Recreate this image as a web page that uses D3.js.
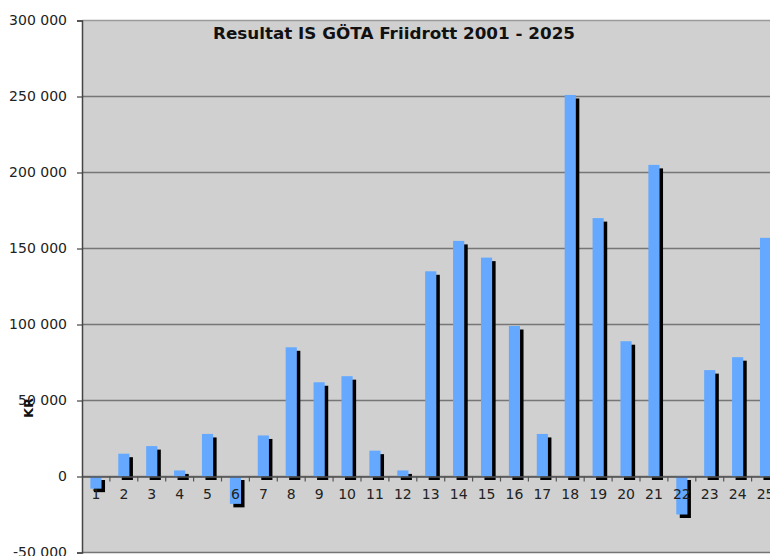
<!DOCTYPE html>
<html><head><meta charset="utf-8">
<script src="https://cdn.jsdelivr.net/npm/d3@7"></script>
<style>body{margin:0;background:#fff;} svg{display:block;}</style>
</head><body>
<svg id="c" width="770" height="556"></svg>
<script>
const categories = ["1","2","3","4","5","6","7","8","9","10","11","12","13","14","15","16","17","18","19","20","21","22","23","24","25"];
const values = [-8000,15000,20000,4000,28000,-18000,27000,85000,62000,66000,17000,4000,135000,155000,144000,99000,28000,251000,170000,89000,205000,-25000,70000,78500,157000];
const yTicks = [-50000,0,50000,100000,150000,200000,250000,300000];
const title = "Resultat IS GÖTA Friidrott 2001 - 2025";
const yLabel = "KR";

const FONT = "'DejaVu Sans', Verdana, sans-serif";
const svg = d3.select("#c");
const L = 82, R = 779.5, T = 20.5, B = 552.5;
const x = d3.scaleBand().domain(categories).range([L, R]).paddingInner(0.6).paddingOuter(0.3);
const y = d3.scaleLinear().domain([-50000, 300000]).range([B, T]);
const fmt = v => d3.format(",")(v).replace(/,/g, " ").replace("−", "-");

// plot background
svg.append("rect").attr("x", L).attr("y", T).attr("width", R - L).attr("height", B - T).attr("fill", "#d0d0d0");

// gridlines
svg.append("g").selectAll("line").data(yTicks).join("line")
  .attr("x1", L).attr("x2", R).attr("y1", d => y(d)).attr("y2", d => y(d))
  .attr("stroke", d => d === 300000 ? "#9a9a9a" : "#767676").attr("stroke-width", 1.4);

// y axis
const ya = svg.append("g").attr("transform", `translate(${L},0)`)
  .call(d3.axisLeft(y).tickValues(yTicks).tickSize(5).tickPadding(10).tickFormat(fmt));
ya.select(".domain").attr("stroke", "#444").attr("stroke-width", 1.5);
ya.selectAll(".tick line").attr("stroke", "#444").attr("stroke-width", 1.2);
ya.selectAll("text").attr("font-family", FONT).attr("font-size", 14).attr("fill", "#222");

// shadows
const bw = x.bandwidth();
svg.append("g").selectAll("rect").data(values).join("rect")
  .attr("x", (d, i) => x(categories[i]) + 3.5)
  .attr("y", d => Math.min(y(d), y(0)) + 3.5)
  .attr("width", bw)
  .attr("height", d => Math.abs(y(d) - y(0)))
  .attr("fill", "#000");

// bars
svg.append("g").selectAll("rect").data(values).join("rect")
  .attr("x", (d, i) => x(categories[i]))
  .attr("y", d => Math.min(y(d), y(0)))
  .attr("width", bw)
  .attr("height", d => Math.abs(y(d) - y(0)))
  .attr("fill", "#64a9ff");

// x axis at zero
const xa = svg.append("g").attr("transform", `translate(0,${y(0)})`)
  .call(d3.axisBottom(x).tickSize(0).tickPadding(13));
xa.select(".domain").attr("stroke", "#555").attr("stroke-width", 1.3);
xa.selectAll("text").attr("font-family", FONT).attr("font-size", 14).attr("fill", "#222");
// boundary ticks
svg.append("g").selectAll("line").data(categories.slice(1)).join("line")
  .attr("x1", c => x(c) - (x.step() - bw) / 2).attr("x2", c => x(c) - (x.step() - bw) / 2)
  .attr("y1", y(0)).attr("y2", y(0) + 5)
  .attr("stroke", "#555").attr("stroke-width", 1.2);

// title
svg.append("text").attr("x", 394).attr("y", 39).attr("text-anchor", "middle")
  .attr("font-family", FONT).attr("font-weight", "bold").attr("font-size", 15)
  .attr("textLength", 362).attr("lengthAdjust", "spacingAndGlyphs")
  .attr("fill", "#111").text(title);

// y label
svg.append("text").attr("transform", "translate(33,408) rotate(-90)").attr("text-anchor", "middle")
  .attr("font-family", FONT).attr("font-weight", "bold").attr("font-size", 13)
  .attr("fill", "#111").text(yLabel);
</script>
</body></html>
